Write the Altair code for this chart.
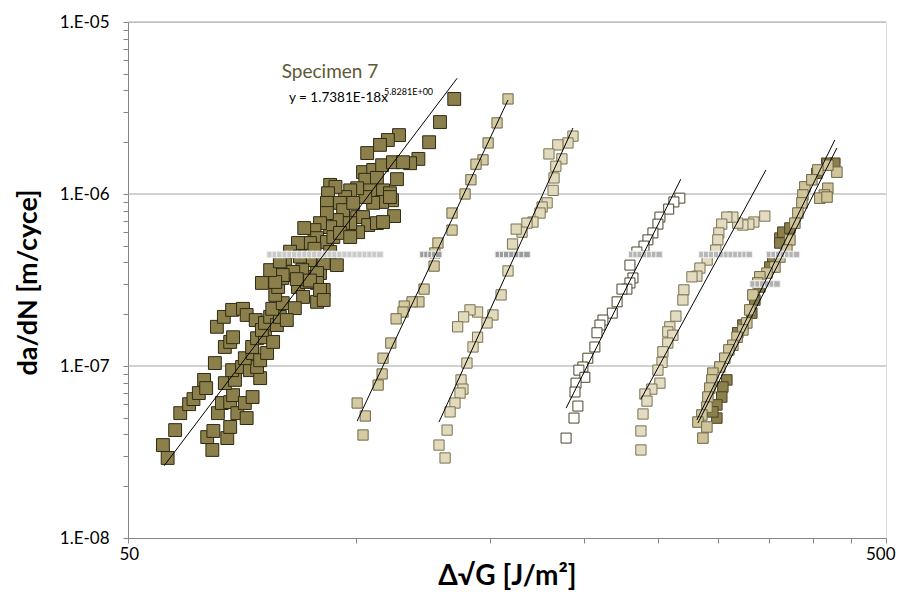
import altair as alt
import pandas as pd

# ---------------- data ----------------
s1_x = [55.6, 56.4, 57.7, 58.6, 60.2, 61.0, 62.0, 63.0, 63.4, 65.1, 65.5, 66.9, 67.1, 68.2, 68.8, 68.6, 70.9, 71.7, 73.7,
        64.6, 63.6, 64.8, 67.6, 68.2, 65.7, 66.5, 68.2, 69.7, 71.7, 68.8, 71.3, 73.0, 67.1, 69.2, 68.6, 70.7, 72.4, 74.7,
        74.0, 71.3, 73.0, 74.7, 72.9, 74.0, 76.3, 75.8, 77.7, 75.1, 75.8, 77.0, 78.6, 79.3, 77.5, 80.0, 78.2, 78.9, 79.9,
        81.8, 83.8, 85.1, 83.0, 88.8, 90.6, 86.1, 89.6, 81.0, 83.5,
        129.0, 124.8, 120.8, 117.8, 113.2, 113.9, 110.1, 107.5, 103.4, 102.1, 105.3, 108.2, 111.8, 115.3, 102.8, 106.5,
        104.3, 108.5, 110.8, 111.5, 108.2, 112.2, 105.3, 102.8, 100.3, 98.2, 96.7, 92.4, 93.9, 91.8, 91.5, 95.2, 96.1,
        99.1, 100.3, 102.1, 103.7, 106.5, 108.5, 100.6, 98.2, 96.1, 94.3, 92.4, 91.5, 89.6, 88.1, 85.4, 88.8, 86.9, 83.8,
        91.5, 93.3, 95.2, 98.2, 94.3, 90.6, 86.9, 88.8, 84.9, 82.6, 80.0, 78.2, 88.8, 86.1, 134.7, 110.8,
        75.1, 77.0, 80.6, 81.8, 79.3, 84.3, 88.1, 92.4, 83.5, 86.9, 89.6, 90.6]
s1_y = [3.47e-8, 2.92e-8, 4.24e-8, 5.32e-8, 6.0e-8, 6.42e-8, 6.96e-8, 8.3e-8, 7.44e-8, 1.04e-7, 1.69e-7, 1.93e-7, 1.29e-7,
        1.38e-7, 1.47e-7, 2.12e-7, 2.15e-7, 1.98e-7, 1.85e-7,
        3.25e-8, 3.86e-8, 4.19e-8, 3.81e-8, 4.42e-8, 5.32e-8, 6.09e-8, 6.17e-8, 5.32e-8, 4.98e-8, 6.77e-8, 6.09e-8, 6.6e-8,
        7.95e-8, 8.3e-8, 9.46e-8, 9.87e-8, 9.46e-8, 8.5e-8, 9.87e-8, 1.11e-7, 1.19e-7, 1.08e-7, 1.29e-7, 1.45e-7, 1.19e-7,
        1.47e-7, 1.38e-7, 1.62e-7, 1.78e-7, 1.93e-7, 1.73e-7, 1.93e-7, 2.15e-7, 2.32e-7, 2.59e-7, 2.88e-7, 3.25e-7,
        3.38e-7, 2.88e-7, 2.52e-7, 2.17e-7, 2.36e-7, 2.77e-7, 3.3e-7, 3.47e-7, 1.85e-7, 3.38e-7,
        2.62e-6, 2.0e-6, 1.6e-6, 1.51e-6, 1.22e-6, 2.2e-6, 2.06e-6, 1.93e-6, 1.73e-6, 1.34e-6, 1.38e-6, 1.47e-6, 1.53e-6,
        1.53e-6, 1.21e-6, 1.24e-6, 1.05e-6, 1.05e-6, 1.01e-6, 9.2e-7, 8.99e-7, 7.44e-7, 8.88e-7, 9.6e-7, 1.08e-6, 1.05e-6,
        9.6e-7, 1.13e-6, 1.1e-6, 1.01e-6, 8.88e-7, 8.88e-7, 8.06e-7, 8.88e-7, 7.34e-7, 7.34e-7, 6.6e-7, 6.77e-7, 6.87e-7,
        6.0e-7, 6.77e-7, 6.77e-7, 7.06e-7, 6.42e-7, 7.75e-7, 6.77e-7, 6.17e-7, 6.34e-7, 5.54e-7, 5.19e-7, 5.19e-7,
        5.26e-7, 5.62e-7, 5.94e-7, 5.62e-7, 3.86e-7, 3.97e-7, 4.13e-7, 3.47e-7, 3.61e-7, 3.52e-7, 3.38e-7, 3.08e-7,
        3.04e-7, 3.08e-7, 3.57e-6, 9.6e-7,
        3.04e-7, 3.61e-7, 4.2e-7, 4.62e-7, 4.06e-7, 4.33e-7, 4.8e-7, 4.6e-7, 3.2e-7, 3.14e-7, 2.77e-7, 2.42e-7]

s2_x = [158.6, 153.4, 149.3, 147.0, 143.9, 141.7, 139.2, 133.8, 133.8, 128.2, 127.0, 126.7, 122.9, 121.0, 118.5, 115.7,
        115.3, 112.9, 111.1, 108.5, 108.2, 106.9, 100.3, 102.8, 102.1]
s2_y = [3.57e-6, 2.59e-6, 1.98e-6, 1.58e-6, 1.49e-6, 1.21e-6, 1.0e-6, 7.75e-7, 6.17e-7, 5.19e-7, 4.54e-7, 3.81e-7, 2.8e-7,
        2.36e-7, 2.36e-7, 2.23e-7, 2.06e-7, 1.88e-7, 1.36e-7, 1.11e-7, 8.99e-8, 7.75e-8, 6.09e-8, 5.12e-8, 3.97e-8]

s3_x = [193.2, 190.3, 184.5, 179.6, 186.8, 183.4, 182.4, 181.9, 178.6, 175.9, 174.8, 171.1, 168.0, 165.5, 162.6, 160.8,
        158.6, 155.3, 151.5, 148.8, 144.6, 141.3, 138.6, 136.1, 144.6, 142.6, 140.0, 137.5, 138.3, 137.1, 135.0, 133.0,
        131.8, 128.6, 131.0]
s3_y = [2.17e-6, 1.98e-6, 1.93e-6, 1.71e-6, 1.6e-6, 1.45e-6, 1.24e-6, 1.05e-6, 8.88e-7, 8.4e-7, 7.75e-7, 6.87e-7, 6.77e-7,
        6.0e-7, 6.25e-7, 5.12e-7, 3.57e-7, 2.59e-7, 1.98e-7, 1.78e-7, 2.06e-7, 2.12e-7, 1.93e-7, 1.69e-7, 1.47e-7,
        1.29e-7, 1.04e-7, 8.3e-8, 7.34e-8, 6.96e-8, 6.09e-8, 5.41e-8, 4.24e-8, 3.47e-8, 2.92e-8]

s4_x = [267.3, 262.5, 258.4, 251.6, 250.1, 246.3, 242.6, 239.7, 234.6, 229.7, 231.8, 229.7, 227.6, 224.2, 220.9, 217.7,
        211.6, 209.7, 207.8, 206.5, 202.1, 199.1, 196.7, 200.3, 195.0, 194.4, 196.1, 193.8, 189.2]
s4_y = [9.46e-7, 8.99e-7, 8.17e-7, 7.34e-7, 6.68e-7, 5.94e-7, 5.41e-7, 4.98e-7, 4.6e-7, 3.86e-7, 3.25e-7, 3.04e-7, 2.8e-7,
        2.8e-7, 2.36e-7, 2.03e-7, 1.85e-7, 1.73e-7, 1.56e-7, 1.29e-7, 1.11e-7, 9.87e-8, 9.46e-8, 8.6e-8, 7.95e-8,
        7.06e-8, 5.85e-8, 4.98e-8, 3.81e-8]

s5_x = [346.0, 334.7, 329.6, 323.7, 318.7, 314.0, 308.3, 303.6, 300.9, 300.0, 298.1, 290.4, 284.1, 281.5, 277.3, 270.6,
        269.8, 264.1, 259.3, 257.7, 261.7, 257.7, 253.9, 253.2, 250.1, 251.6, 245.5, 240.4, 241.9, 239.0, 237.5, 237.5]
s5_y = [7.44e-7, 6.87e-7, 6.68e-7, 6.6e-7, 6.77e-7, 7.34e-7, 7.34e-7, 6.68e-7, 5.94e-7, 5.41e-7, 4.72e-7, 4.13e-7, 3.71e-7,
        3.33e-7, 3.3e-7, 2.77e-7, 2.42e-7, 1.95e-7, 1.69e-7, 1.58e-7, 1.51e-7, 1.36e-7, 1.21e-7, 1.05e-7, 9.46e-8,
        7.95e-8, 7.34e-8, 6.87e-8, 6.25e-8, 5.26e-8, 4.19e-8, 3.25e-8]

s6a_x = [428.0, 417.7, 405.3, 362.2, 362.2, 365.5, 373.4, 354.5, 351.3, 340.8, 335.7, 332.6, 323.7, 318.7, 308.3, 304.6,
         303.6, 299.1, 299.1, 295.5]
s6a_y = [1.51e-6, 1.51e-6, 1.32e-6, 5.54e-7, 5.19e-7, 6.0e-7, 6.34e-7, 4.13e-7, 3.76e-7, 2.88e-7, 2.42e-7, 2.03e-7,
         1.73e-7, 1.56e-7, 8.3e-8, 7.55e-8, 6.6e-8, 5.94e-8, 4.98e-8, 5.41e-8]

s6b_x = [430.7, 419.0, 414.6, 409.0, 390.8, 388.5, 387.3, 382.6, 379.1, 373.4, 370.0, 362.2, 356.8, 348.3, 340.8, 338.7,
         333.7, 330.6, 327.6, 323.7, 318.0, 314.0, 310.2, 306.4, 301.8, 295.5, 294.6, 292.8, 291.1, 290.2, 285.8, 282.4,
         290.2, 286.7, 419.0, 406.5, 399.2, 418.0]
s6b_y = [1.34e-6, 1.08e-6, 9.87e-7, 9.46e-7, 1.1e-6, 9.87e-7, 8.88e-7, 7.75e-7, 6.77e-7, 5.41e-7, 4.72e-7, 4.3e-7, 3.76e-7,
         3.47e-7, 3.3e-7, 3.04e-7, 2.59e-7, 2.12e-7, 1.78e-7, 1.62e-7, 1.47e-7, 1.32e-7, 1.24e-7, 1.11e-7, 9.87e-8,
         9.09e-8, 8.3e-8, 7.44e-8, 6.6e-8, 5.77e-8, 5.19e-8, 4.72e-8, 4.42e-8, 3.81e-8, 1.47e-6, 1.38e-6, 1.21e-6, 9.6e-7]

# small grey markers lying on a constant rate
band_y = [4.45e-7, 4.45e-7, 4.45e-7, 4.45e-7, 4.45e-7, 4.45e-7, 3.0e-7]
band_x = [
    [77.0, 78.2, 79.3, 80.6, 81.8, 83.0, 84.3, 85.6, 86.9, 88.2, 89.6, 91.0, 92.4, 93.8, 95.2, 96.7, 98.2, 99.7, 101.2,
     102.8, 104.3, 105.9, 107.5],
    [122.5, 124.0, 125.5, 127.0, 128.5],
    [154.0, 156.0, 158.0, 160.5, 163.0, 165.5, 168.0],
    [231.0, 234.0, 237.0, 240.5, 244.0, 247.5, 251.0],
    [286.0, 290.0, 294.5, 299.0, 303.5, 308.0, 312.5, 317.0, 321.5, 326.0, 330.0],
    [351.0, 356.0, 361.0, 366.0, 371.0, 376.0, 381.0],
    [334.0, 339.0, 344.0, 349.0, 354.0, 359.0],
]
band_fill = ["#cacaca", "#9c9c9c", "#9c9c9c", "#b4b4b4", "#b8b8b8", "#b4b4b4", "#b0b0b0"]

# power-law trend lines (end points)
trend_id = ["1", "1", "2", "2", "3", "3", "4", "4", "5", "5", "6a", "6a", "6b", "6b"]
trend_x = [55.8, 135.9, 100.3, 158.6, 128.6, 193.2, 189.2, 268.1, 237.5, 347.2, 281.5, 428.0, 282.4, 430.7]
trend_y = [2.63e-8, 4.71e-6, 4.79e-8, 3.52e-6, 4.72e-8, 2.42e-6, 5.69e-8, 1.22e-6, 6.42e-8, 1.38e-6, 4.86e-8, 2.06e-6,
           4.66e-8, 1.85e-6]

grid_y = [1e-7, 1e-6, 1e-5]
x_ticks = [50, 100, 150, 200, 250, 300, 350, 400, 450, 500]
y_ticks = [m * 10.0 ** e for e in (-8, -7, -6) for m in range(1, 10)] + [1e-5]

# ---------------- encodings ----------------
FONT = "Lato"
xs = alt.Scale(type="log", domain=[50, 500], nice=False)
ys = alt.Scale(type="log", domain=[1e-8, 1e-5], nice=False)

x_axis = alt.Axis(values=x_ticks, grid=False, tickSize=5, tickColor="#868686", domainColor="#868686",
                  labelExpr="datum.value == 50 || datum.value == 500 ? format(datum.value, 'd') : ''",
                  labelFont=FONT, labelFontSize=17, labelColor="#000000", labelPadding=3,
                  labelFlush=True, labelFlushOffset=9, labelOverlap=False,
                  title="Δ√G [J/m²]", titleFont=FONT, titleFontSize=28, titleFontWeight="bold",
                  titleColor="#000000", titleX=379, titleY=38, titleBaseline="middle", titleAlign="center")
y_axis = alt.Axis(values=y_ticks, grid=False, tickSize=5, tickColor="#868686", domainColor="#868686",
                  labelExpr="abs(log(datum.value)/LN10 - round(log(datum.value)/LN10)) < 0.01 ? "
                            "'1.E-0' + round(-log(datum.value)/LN10) : ''",
                  labelFont=FONT, labelFontSize=17, labelColor="#000000", labelPadding=14,
                  labelOverlap=False, labelFlush=False,
                  title="da/dN [m/cyce]", titleFont=FONT, titleFontSize=27, titleFontWeight="bold",
                  titleColor="#000000", titleX=-100, titleY=260, titleBaseline="middle", titleAlign="center")

X = alt.X("x:Q", scale=xs, axis=x_axis)
Y = alt.Y("y:Q", scale=ys, axis=y_axis)

layers = []

grid = alt.Chart(pd.DataFrame({"y": grid_y})).mark_rule(color="#a3a3a3", strokeWidth=1).encode(y=Y)
layers.append(grid)


def squares(xv, yv, fill, stroke, size):
    df = pd.DataFrame({"x": xv, "y": yv})
    return alt.Chart(df).mark_point(shape="square", filled=True, fill=fill, stroke=stroke, strokeWidth=1,
                                    opacity=1, fillOpacity=1, size=size).encode(x=X, y=Y)


layers.append(squares(s1_x, s1_y, "#8b7f4b", "#2f2a14", 165))
layers.append(squares(s2_x, s2_y, "#d5cba2", "#6d6545", 105))
layers.append(squares(s3_x, s3_y, "#e1dabd", "#7a7250", 105))
layers.append(squares(s4_x, s4_y, "#ffffff", "#4c4429", 100))
layers.append(squares(s5_x, s5_y, "#e3dcc3", "#7a7250", 105))
layers.append(squares(s6a_x, s6a_y, "#8b7f4b", "#4a4325", 110))
layers.append(squares(s6b_x, s6b_y, "#cfc49a", "#6d6545", 110))

for bx, by, bf in zip(band_x, band_y, band_fill):
    dfb = pd.DataFrame({"x": bx, "y": [by] * len(bx)})
    layers.append(alt.Chart(dfb).mark_point(shape="square", filled=True, fill=bf, stroke="#f2f2f2",
                                            strokeWidth=1, opacity=1, size=42).encode(x=X, y=Y))

trend = pd.DataFrame({"x": trend_x, "y": trend_y, "id": trend_id})
layers.append(alt.Chart(trend).mark_line(color="#000000", strokeWidth=1).encode(x=X, y=Y, detail="id:N"))

layers.append(alt.Chart(pd.DataFrame({"t": ["Specimen 7"]})).mark_text(
    font=FONT, fontSize=19, color="#5f5836", align="center", baseline="middle").encode(
    text="t:N", x=alt.value(202), y=alt.value(50)))
layers.append(alt.Chart(pd.DataFrame({"t": ["y = 1.7381E-18x"]})).mark_text(
    font=FONT, fontSize=13.5, color="#000000", align="left", baseline="middle").encode(
    text="t:N", x=alt.value(161), y=alt.value(76)))
layers.append(alt.Chart(pd.DataFrame({"t": ["5.8281E+00"]})).mark_text(
    font=FONT, fontSize=9, color="#000000", align="left", baseline="middle").encode(
    text="t:N", x=alt.value(256), y=alt.value(70)))

chart = alt.layer(*layers).properties(
    width=758, height=516,
    autosize=alt.AutoSizeParams(type="none"),
    padding={"left": 120, "top": 14, "right": 11, "bottom": 56},
).configure_view(stroke=None).configure(background="#ffffff")

chart.save("out.html", embed_options={"renderer": "svg", "actions": False})
